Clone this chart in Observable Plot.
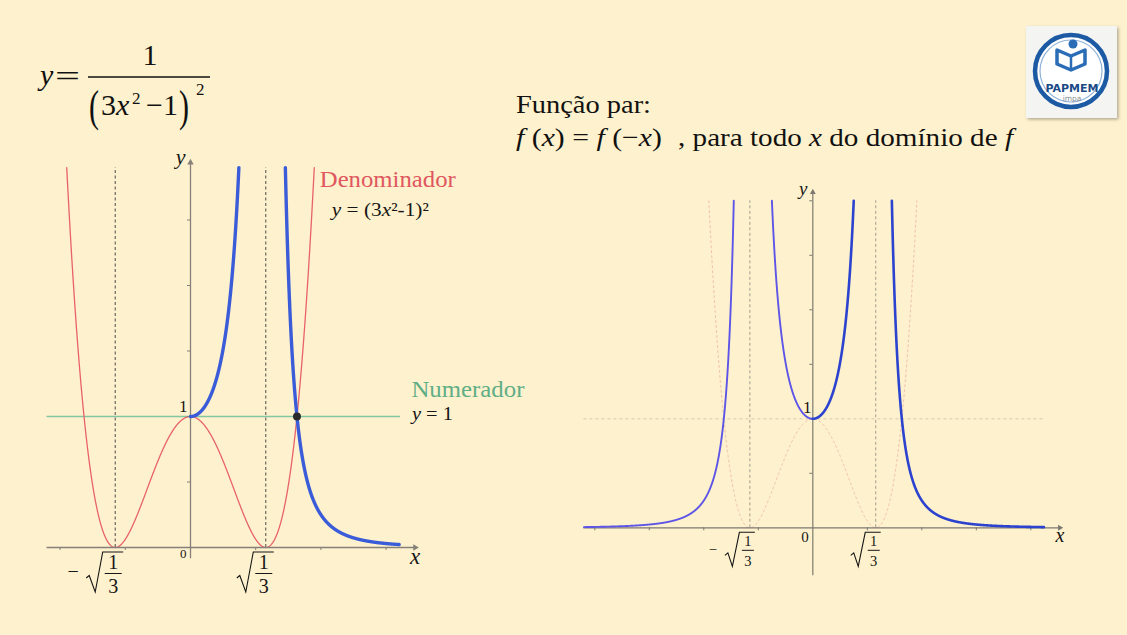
<!DOCTYPE html>
<html>
<head>
<meta charset="utf-8">
<script src="https://cdn.jsdelivr.net/npm/d3@7"></script>
<script src="https://cdn.jsdelivr.net/npm/@observablehq/plot@0.6"></script>
<style>
  html, body { margin: 0; padding: 0; }
  body {
    width: 1127px; height: 635px; position: relative; overflow: hidden;
    background: #fef1cd; font-family: "Liberation Serif", "Times New Roman", serif; color: #111;
  }
  #header { position: absolute; left: 0; top: 0; }
  #left { position: absolute; left: 40px; top: 145px; }
  #right { position: absolute; left: 570px; top: 170px; }
</style>
</head>
<body>
<svg id="header" width="1127" height="635" font-family="Liberation Serif, Times New Roman, serif" fill="#111">
  <defs>
    <filter id="shadow" x="-20%" y="-20%" width="140%" height="140%">
      <feDropShadow dx="1.5" dy="1.5" stdDeviation="1.5" flood-color="#000" flood-opacity="0.3"/>
    </filter>
  </defs>
  <!-- y = 1 / (3x² − 1)² -->
  <text x="40" y="85" font-size="30" font-style="italic">y</text>
  <text x="55" y="86" font-size="30" textLength="25" lengthAdjust="spacingAndGlyphs">=</text>
  <line x1="88" x2="210" y1="77" y2="77" stroke="#111" stroke-width="1.4"/>
  <text x="150" y="65" font-size="30" text-anchor="middle">1</text>
  <text x="89" y="121" font-size="30" transform="translate(0,-60) scale(1,1.5)">(</text>
  <text x="101" y="115" font-size="30">3<tspan font-style="italic">x</tspan></text>
  <text x="132" y="104" font-size="17">2</text>
  <text x="146" y="115" font-size="30">−1</text>
  <text x="179" y="121" font-size="30" transform="translate(0,-60) scale(1,1.5)">)</text>
  <text x="196" y="95" font-size="17">2</text>

  <!-- Função par -->
  <text x="516" y="113" font-size="26" textLength="135" lengthAdjust="spacingAndGlyphs">Função par:</text>
  <text x="516" y="146" font-size="26" textLength="146" lengthAdjust="spacingAndGlyphs" xml:space="preserve"><tspan font-style="italic">f</tspan> (<tspan font-style="italic">x</tspan>) = <tspan font-style="italic">f</tspan> (−<tspan font-style="italic">x</tspan>)</text>
  <text x="678" y="146" font-size="26" textLength="335" lengthAdjust="spacingAndGlyphs">, para todo <tspan font-style="italic">x</tspan> do domínio de <tspan font-style="italic">f</tspan></text>

  <!-- logo -->
  <g>
    <rect x="1026" y="26" width="91" height="92" fill="#f4f4f2" filter="url(#shadow)"/>
    <circle cx="1071" cy="71" r="36" fill="#ffffff" stroke="#1c5aa3" stroke-width="4.5"/>
    <circle cx="1071" cy="71" r="31" fill="none" stroke="#8fb2d8" stroke-width="1.2"/>
    <circle cx="1073" cy="44" r="4.5" fill="#2a6cb6"/>
    <path d="M1057,50 L1071,56 L1085,50 L1085,64 L1071,70 L1057,64 Z" fill="none" stroke="#2a6cb6" stroke-width="3.5" stroke-linejoin="round"/>
    <path d="M1071,56 L1071,70" stroke="#2a6cb6" stroke-width="2.5"/>
    <text x="1072" y="92" font-family="DejaVu Sans, sans-serif" font-weight="bold" font-size="11" fill="#1b4a86" text-anchor="middle">PAPMEM</text>
    <text x="1072" y="101" font-family="DejaVu Sans, sans-serif" font-size="7.5" fill="#8a8f96" text-anchor="middle">impa</text>
  </g>
</svg>
<div id="left"></div>
<div id="right"></div>
<script>
// y = numerator / (a·x² + b)²
const numeratorValue = [1];
const denominatorCoefs = [3, -1];                         // 3x² − 1
const asymptoteX = [-Math.sqrt(1 / 3), Math.sqrt(1 / 3)]; // zeros of 3x² − 1
const crossingPoint = [{x: Math.sqrt(2 / 3), y: 1}];     // where (3x² − 1)² = 1 for x > 0

const leftXTicks = [-1, -0.5, 0.5, 1, 1.5];
const leftYTicks = [0.5, 1, 1.5, 2, 2.5];
const rightXTicks = [-2, -1.5, -1, -0.5, 0.5, 1, 1.5, 2];
const rightYTicks = [0.5, 1, 1.5, 2, 2.5, 3];

const leftCaptions = ["Denominador", "Numerador"];
const radicalSigns = ["−", ""];

const SERIF = "Liberation Serif, Times New Roman, serif";

const den = x => (denominatorCoefs[0] * x * x + denominatorCoefs[1]) ** 2;
const fn = x => numeratorValue[0] / den(x);
// x > 0 where den(x) = c on the outer branch
const denOuter = c => Math.sqrt((Math.sqrt(c) - denominatorCoefs[1]) / denominatorCoefs[0]);
// x > 0 where fn(x) = c, inner and outer branch
const fnInner = c => Math.sqrt((-denominatorCoefs[1] - Math.sqrt(numeratorValue[0] / c)) / denominatorCoefs[0]);
const fnOuter = c => Math.sqrt((-denominatorCoefs[1] + Math.sqrt(numeratorValue[0] / c)) / denominatorCoefs[0]);

function curve(f, a, b, seg, n = 1200) {
  return d3.range(n + 1).map(i => {
    const x = a + (b - a) * i / n;
    return {x, y: f(x), seg};
  });
}

// Text made of italic/upright pieces, anchored in data space
function richText(items) {
  return (index, scales) => {
    const g = d3.create("svg:g").attr("font-family", SERIF);
    for (const it of items) {
      const t = g.append("text")
        .attr("x", scales.x(it.x) + (it.dx || 0))
        .attr("y", scales.y(it.y) + (it.dy || 0))
        .attr("font-size", it.size)
        .attr("fill", it.fill || "#161616")
        .attr("text-anchor", it.anchor || "start");
      if (it.len) t.attr("textLength", it.len).attr("lengthAdjust", "spacingAndGlyphs");
      for (const [s, italic] of it.parts) {
        const sp = t.append("tspan").text(s);
        if (italic) sp.attr("font-style", "italic");
      }
    }
    return g.node();
  };
}

// ±√(1/3) tick labels
function radicalLabels(values, o) {
  return (index, scales) => {
    const g = d3.create("svg:g").attr("font-family", SERIF).attr("fill", "#161616");
    const y0 = scales.y(0);
    values.forEach(v => {
      const cx = scales.x(v) - 1.5;
      const sign = radicalSigns[v < 0 ? 0 : 1];
      if (sign) {
        g.append("text").attr("x", cx + o.minusX).attr("y", y0 + o.minusY)
          .attr("font-size", o.font).attr("text-anchor", "middle").text(sign);
      }
      g.append("path")
        .attr("d", `M${cx + o.hook},${y0 + o.hookY}l3,-2.5L${cx + o.foot},${y0 + o.bottom}L${cx + o.left},${y0 + o.top}H${cx + o.right}`)
        .attr("fill", "none").attr("stroke", "#161616").attr("stroke-width", 1.1);
      g.append("text").attr("x", cx).attr("y", y0 + o.num).attr("font-size", o.font)
        .attr("text-anchor", "middle").text("1");
      g.append("path").attr("d", `M${cx - o.bar},${y0 + o.barY}H${cx + o.bar}`)
        .attr("stroke", "#161616").attr("stroke-width", 1);
      g.append("text").attr("x", cx).attr("y", y0 + o.den).attr("font-size", o.font)
        .attr("text-anchor", "middle").text("3");
    });
    return g.node();
  };
}

/* ---------- left: numerator, denominator and the right half of the quotient ---------- */
{
  const clip = 2.9;
  const xStart = -1.1, xAxisEnd = 1.751, yAxisEnd = 2.967;
  const blueEnd = 1.6, greenEnd = 1.61;
  const redTop = denOuter(clip);
  const red = curve(den, -redTop, redTop, 0);
  const blue = [
    ...curve(fn, 0, fnInner(clip), 0),
    ...curve(fn, fnOuter(clip), blueEnd, 1)
  ];
  const axisColor = "#85807a";
  const pxX = 130.4, pxY = 131;

  const plot = Plot.plot({
    width: 500, height: 460, margin: 0,
    x: {domain: [-1.1503, 2.684], axis: null},
    y: {domain: [-0.4427, 3.0687], axis: null},
    style: {background: "transparent", overflow: "visible", fontFamily: SERIF},
    marks: [
      Plot.ruleX(asymptoteX, {y1: 0, y2: clip, stroke: "#4a4a4a", strokeWidth: 1, strokeDasharray: "3,2.5"}),
      Plot.ruleY(numeratorValue, {x1: xStart, x2: greenEnd, stroke: "#82c6a2", strokeWidth: 1.4}),
      Plot.line(red, {x: "x", y: "y", stroke: "#e8626b", strokeWidth: 1.3}),
      // axes
      Plot.ruleY([0], {x1: xStart, x2: xAxisEnd - 0.03, stroke: axisColor, strokeWidth: 1.3}),
      Plot.ruleX([0], {y1: -0.085, y2: yAxisEnd - 0.03, stroke: axisColor, strokeWidth: 1.3}),
      Plot.dot([{x: xAxisEnd, y: 0}], {x: "x", y: "y", symbol: "triangle", r: 2.4, rotate: 90, dx: -3.7, fill: axisColor}),
      Plot.dot([{x: 0, y: yAxisEnd}], {x: "x", y: "y", symbol: "triangle", r: 2.4, rotate: 0, dy: 3.7, fill: axisColor}),
      Plot.ruleX(leftXTicks, {y1: 0, y2: -3 / pxY, stroke: axisColor, strokeWidth: 1}),
      Plot.ruleY(leftYTicks, {x1: -3 / pxX, x2: 0, stroke: axisColor, strokeWidth: 1}),
      // quotient, x ≥ 0
      Plot.line(blue, {x: "x", y: "y", z: "seg", stroke: "#3b5cd8", strokeWidth: 3.4}),
      Plot.dot(crossingPoint, {x: "x", y: "y", r: 4, fill: "#2a2a2a"}),
      richText([
        {x: redTop, y: clip, dx: 6, dy: 20, size: 23, len: 136, fill: "#e0575f", parts: [[leftCaptions[0], false]]},
        {x: redTop, y: clip, dx: 18, dy: 48.5, size: 19, len: 97, parts: [["y", true], [" = (3", false], ["x", true], ["²-1)²", false]]},
        {x: greenEnd, y: numeratorValue[0], dx: 11.5, dy: -18.7, size: 23, len: 113, fill: "#5fae86", parts: [[leftCaptions[1], false]]},
        {x: greenEnd, y: numeratorValue[0], dx: 12, dy: 4, size: 19.5, len: 41, parts: [["y", true], [" = 1", false]]},
        {x: 0, y: 0, dx: -6.7, dy: 11, size: 13, anchor: "middle", parts: [["0", false]]},
        {x: 0, y: 1, dx: -6.7, dy: -4.3, size: 17, anchor: "middle", parts: [["1", false]]},
        {x: xAxisEnd, y: 0, dx: -3.3, dy: 16.6, size: 23, anchor: "middle", parts: [["x", true]]},
        {x: 0, y: yAxisEnd, dx: -9.3, dy: 5.7, size: 22, anchor: "middle", parts: [["y", true]]}
      ]),
      radicalLabels(asymptoteX, {
        font: 20, minusX: -40, minusY: 31, hook: -27, hookY: 31, foot: -18, bottom: 45,
        left: -10.5, top: 5, right: 10, num: 22, bar: 8.5, barY: 26.5, den: 45.5
      })
    ]
  });
  document.getElementById("left").append(plot);
}

/* ---------- right: the whole even function ---------- */
{
  const clip = 3.0;
  const xStart = -2.1, xAxisEnd = 2.297, yAxisEnd = 3.11, yAxisStart = -0.44;
  const blueEnd = 2.12;
  const redTop = denOuter(clip);
  const inner = fnInner(clip), outer = fnOuter(clip);
  const leftHalf = [
    ...curve(fn, xStart, -outer, 0),
    ...curve(fn, -inner, 0, 1)
  ];
  const rightHalf = [
    ...curve(fn, 0, inner, 0),
    ...curve(fn, outer, blueEnd, 1)
  ];
  const axisColor = "#7d7972";
  const pxX = 109, pxY = 109;

  const plot = Plot.plot({
    width: 500, height: 420, margin: 0,
    x: {domain: [-2.223, 2.364], axis: null},
    y: {domain: [-0.575, 3.278], axis: null},
    style: {background: "transparent", overflow: "visible", fontFamily: SERIF},
    marks: [
      Plot.ruleY(numeratorValue, {x1: xStart, x2: blueEnd, stroke: "#d8c7b0", strokeWidth: 1, strokeDasharray: "3,3"}),
      Plot.line(curve(den, -redTop, redTop, 0), {x: "x", y: "y", stroke: "#f0bfae", strokeWidth: 1, strokeDasharray: "2,3"}),
      Plot.ruleX(asymptoteX, {y1: 0, y2: clip, stroke: "#a29c90", strokeWidth: 1, strokeDasharray: "3,2.5"}),
      // axes
      Plot.ruleY([0], {x1: xStart, x2: xAxisEnd - 0.03, stroke: axisColor, strokeWidth: 1.2}),
      Plot.ruleX([0], {y1: yAxisStart, y2: yAxisEnd - 0.03, stroke: axisColor, strokeWidth: 1.2}),
      Plot.dot([{x: xAxisEnd, y: 0}], {x: "x", y: "y", symbol: "triangle", r: 2.2, rotate: 90, dx: -3.4, fill: axisColor}),
      Plot.dot([{x: 0, y: yAxisEnd}], {x: "x", y: "y", symbol: "triangle", r: 2.2, rotate: 0, dy: 3.4, fill: axisColor}),
      Plot.ruleX(rightXTicks, {y1: 0, y2: -3 / pxY, stroke: axisColor, strokeWidth: 1}),
      Plot.ruleY(rightYTicks, {x1: -3 / pxX, x2: 0, stroke: axisColor, strokeWidth: 1}),
      // quotient, both halves
      Plot.line(leftHalf, {x: "x", y: "y", z: "seg", stroke: "#5d55e8", strokeWidth: 1.9}),
      Plot.line(rightHalf, {x: "x", y: "y", z: "seg", stroke: "#2c43cf", strokeWidth: 2.6}),
      richText([
        {x: 0, y: 0, dx: -7.3, dy: 14.4, size: 15, anchor: "middle", parts: [["0", false]]},
        {x: 0, y: 1, dx: -5, dy: -5, size: 17, anchor: "middle", parts: [["1", false]]},
        {x: xAxisEnd, y: 0, dx: -2.7, dy: 14.4, size: 20, anchor: "middle", parts: [["x", true]]},
        {x: 0, y: yAxisEnd, dx: -9, dy: 6.7, size: 19, anchor: "middle", parts: [["y", true]]}
      ]),
      radicalLabels(asymptoteX, {
        font: 14.5, minusX: -35, minusY: 27, hook: -23, hookY: 28, foot: -15.5, bottom: 39,
        left: -8.5, top: 5, right: 7, num: 19, bar: 6, barY: 23, den: 38.5
      })
    ]
  });
  document.getElementById("right").append(plot);
}
</script>
</body>
</html>
